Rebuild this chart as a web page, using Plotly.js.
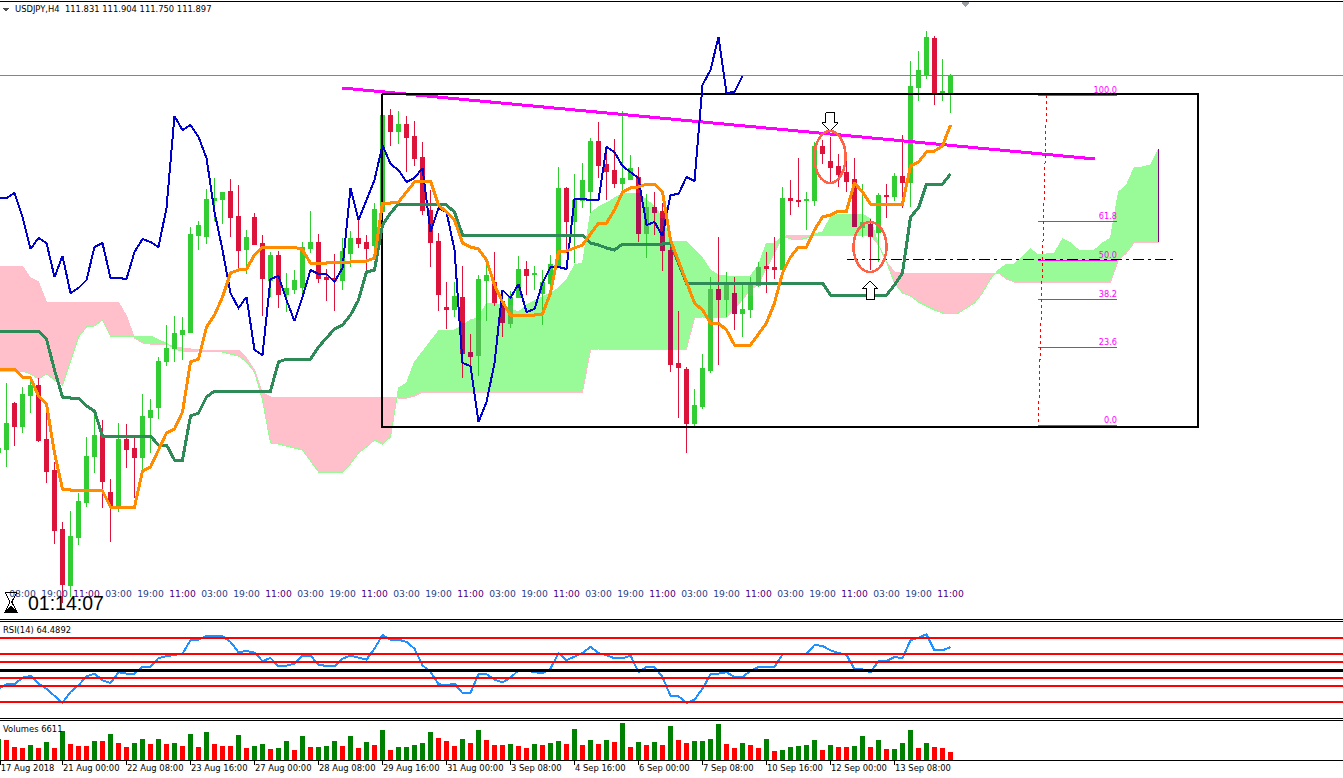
<!DOCTYPE html>
<html><head><meta charset="utf-8">
<script src="https://cdn.plot.ly/plotly-3.0.1.min.js"></script>
<style>html,body{margin:0;padding:0;background:#fff;overflow:hidden}.main-svg path{shape-rendering:crispEdges}</style>
</head><body><div id="chart" style="width:1343px;height:778px"></div>
<script>
// Candles, first bar is index -1
const opens=[110.392,110.404,110.588,110.496,110.62,110.66,110.444,110.32,110.084,109.86,110.052,110.192,110.376,110.46,110.232,110.18,110.444,110.408,110.372,110.532,110.572,110.756,110.808,110.864,110.872,111.26,111.256,111.4,111.404,111.436,111.336,111.204,111.332,111.228,111.08,111.18,111.024,111.044,111.052,111.208,111.232,111.092,111.088,111.08,111.188,111.248,111.232,111.22,111.356,111.74,111.676,111.704,111.656,111.572,111.36,111.236,110.972,110.964,111.012,110.792,110.78,111.08,111.072,110.996,110.908,111.012,111.124,111.102,111.028,111.068,111.14,111.448,111.316,111.4,111.436,111.636,111.544,111.52,111.468,111.484,111.492,111.268,111.372,111.356,111.2,110.748,110.724,110.508,110.576,110.72,111.044,111.004,111.028,110.948,110.964,111.06,111.136,111.132,111.124,111.408,111.4,111.4,111.4,111.616,111.556,111.536,111.512,111.484,111.292,111.304,111.272,111.42,111.416,111.496,111.472,111.852,111.9,112.048,111.824,111.831];
const highs=[110.408,110.668,110.592,110.652,110.688,110.688,110.58,110.352,110.112,110.156,110.228,110.452,110.54,110.52,110.284,110.508,110.504,110.448,110.624,110.604,110.772,110.9,110.936,110.932,111.292,111.316,111.444,111.488,111.432,111.484,111.46,111.28,111.348,111.26,111.192,111.196,111.108,111.12,111.232,111.356,111.264,111.124,111.184,111.248,111.276,111.32,111.26,111.388,111.74,111.764,111.756,111.736,111.716,111.632,111.44,111.268,111.072,111.072,111.136,110.864,111.1,111.14,111.192,111,111.036,111.176,111.156,111.136,111.12,111.18,111.532,111.452,111.504,111.548,111.648,111.712,111.584,111.644,111.756,111.58,111.532,111.424,111.432,111.388,111.24,110.956,110.732,110.644,110.784,111.092,111.252,111.112,111.092,111.06,111.092,111.152,111.192,111.252,111.452,111.48,111.568,111.432,111.632,111.64,111.652,111.584,111.592,111.568,111.464,111.324,111.428,111.464,111.508,111.66,111.956,111.996,112.076,112.056,111.964,111.904];
const lows=[110.392,110.332,110.416,110.468,110.548,110.432,110.268,110.024,109.788,109.812,110.02,110.172,110.308,110.168,110.032,110.152,110.328,110.208,110.32,110.388,110.524,110.736,110.752,110.76,110.868,111.2,111.224,111.316,111.304,111.252,111.128,111.104,111.22,110.936,111.012,110.968,110.952,111.024,111.028,111.188,111.068,110.996,110.956,111.04,111.132,111.208,111.12,111.172,111.356,111.616,111.624,111.512,111.536,111.34,111.132,110.956,110.884,110.932,110.688,110.736,110.696,110.916,110.976,110.852,110.888,111.008,111.02,111.04,110.9,111.028,111.14,111.188,111.148,111.368,111.348,111.488,111.4,111.448,111.44,111.48,111.232,111.168,111.26,111.116,110.712,110.528,110.388,110.488,110.564,110.708,110.74,110.932,110.88,110.852,110.928,111.052,111.028,111.084,111.124,111.34,111.372,111.28,111.376,111.544,111.468,111.452,111.432,111.292,111.252,111.12,111.152,111.328,111.396,111.368,111.372,111.796,111.884,111.78,111.796,111.75];
const closes=[110.408,110.508,110.496,110.624,110.66,110.44,110.316,110.08,109.864,110.056,110.196,110.376,110.46,110.276,110.18,110.444,110.404,110.372,110.536,110.56,110.756,110.808,110.868,110.88,111.264,111.3,111.404,111.408,111.432,111.332,111.2,111.252,111.224,111.088,111.18,111.024,111.048,111.08,111.212,111.232,111.088,111.084,111.08,111.196,111.248,111.228,111.208,111.364,111.74,111.676,111.704,111.652,111.568,111.36,111.232,111.024,110.964,111.016,110.788,110.776,111.084,111.1,110.992,110.912,111.012,111.124,111.1,111.106,111.072,111.144,111.448,111.316,111.4,111.48,111.636,111.54,111.516,111.468,111.488,111.528,111.268,111.372,111.352,111.2,110.744,110.732,110.508,110.58,110.728,111.044,111.004,111.068,110.948,110.964,111.06,111.132,111.128,111.124,111.408,111.4,111.396,111.404,111.616,111.588,111.532,111.504,111.476,111.296,111.312,111.256,111.42,111.416,111.496,111.472,111.856,111.92,112.052,111.828,111.836,111.897];
// Parts of candle bodies seen through the cloud
const cloudBodyBar=[57,58,59,62,63,79,80,81,82,83,88,89,90,91,93,94,106,107,108];
const cloudBodyHigh=[110.908,110.792,110.92,110.988,110.98,111.428,111.372,111.372,111.328,111.2,111.044,111.044,111.068,111.028,111.06,111.132,111.344,111.312,111.304];
const cloudBodyLow=[110.788,110.776,110.78,110.912,110.908,111.268,111.268,111.352,111.2,110.804,110.928,111.004,111.004,110.948,111.02,111.06,111.296,111.292,111.26];
// Ichimoku
const tenkan=[110.724,110.724,110.724,110.692,110.688,110.616,110.584,110.388,110.244,110.24,110.24,110.24,110.24,110.236,110.172,110.172,110.172,110.172,110.316,110.332,110.4,110.468,110.484,110.552,110.752,110.764,110.892,110.94,111.012,111.108,111.12,111.124,111.18,111.212,111.212,111.212,111.212,111.212,111.2,111.148,111.148,111.148,111.152,111.152,111.152,111.156,111.156,111.168,111.388,111.388,111.392,111.432,111.472,111.476,111.476,111.38,111.352,111.32,111.228,111.212,111.204,111.16,111.06,110.992,110.94,110.94,110.94,110.94,110.944,111.028,111.192,111.196,111.208,111.22,111.264,111.308,111.308,111.36,111.432,111.448,111.452,111.464,111.464,111.432,111.24,111.152,111.072,110.988,110.96,110.908,110.908,110.88,110.82,110.82,110.82,110.864,110.908,110.988,111.108,111.172,111.212,111.212,111.28,111.332,111.34,111.356,111.356,111.468,111.432,111.384,111.384,111.384,111.384,111.384,111.536,111.552,111.592,111.596,111.616,111.7];
const kijun=[110.876,110.876,110.876,110.876,110.876,110.876,110.844,110.72,110.612,110.608,110.608,110.576,110.556,110.456,110.456,110.456,110.456,110.456,110.456,110.456,110.42,110.42,110.36,110.36,110.536,110.548,110.612,110.636,110.636,110.636,110.636,110.636,110.636,110.636,110.636,110.752,110.764,110.764,110.764,110.764,110.812,110.848,110.884,110.9,110.94,111,111.112,111.12,111.3,111.348,111.384,111.384,111.384,111.384,111.384,111.384,111.38,111.352,111.26,111.26,111.26,111.26,111.26,111.26,111.26,111.26,111.26,111.26,111.26,111.26,111.26,111.26,111.26,111.26,111.228,111.22,111.208,111.2,111.224,111.224,111.224,111.224,111.224,111.224,111.228,111.144,111.068,111.068,111.068,111.068,111.068,111.068,111.068,111.068,111.068,111.068,111.068,111.068,111.068,111.068,111.068,111.068,111.068,111.068,111.02,111.02,111.02,111.02,111.02,111.02,111.02,111.02,111.06,111.108,111.332,111.368,111.464,111.464,111.464,111.504];
const chikou=[111.408,111.408,111.428,111.332,111.204,111.248,111.228,111.092,111.176,111.028,111.048,111.08,111.212,111.228,111.088,111.088,111.084,111.192,111.244,111.232,111.212,111.368,111.736,111.68,111.7,111.652,111.568,111.352,111.2,111.028,110.968,111.012,110.8,110.78,111.084,111.096,111,110.916,111.012,111.12,111.104,111.104,111.072,111.128,111.448,111.32,111.4,111.48,111.62,111.544,111.52,111.472,111.488,111.528,111.272,111.368,111.352,111.2,110.748,110.736,110.512,110.592,110.748,111.04,111.008,111.064,110.952,110.964,111.068,111.132,111.132,111.124,111.404,111.404,111.4,111.4,111.612,111.592,111.536,111.512,111.488,111.3,111.312,111.256,111.42,111.424,111.492,111.476,111.86,111.92,112.052,111.828,111.832,111.896];
const senkouA=[
110.716,110.716,110.716,110.716,110.704,110.684,110.704,110.68,110.66,110.76,
110.852,110.892,110.896,110.92,110.856,110.856,110.856,110.856,110.856,110.856,
110.84,110.828,110.804,110.796,110.792,110.796,110.796,110.796,110.792,110.784,
110.776,110.752,110.712,110.6,110.428,110.424,110.416,110.408,110.4,110.356,
110.312,110.312,110.312,110.312,110.344,110.388,110.412,110.44,110.424,110.452,
110.648,110.668,110.752,110.792,110.832,110.876,110.88,110.88,110.9,110.92,
110.928,110.988,110.988,110.976,110.964,110.952,110.98,110.996,111.012,111.028,
111.048,111.08,111.14,111.148,111.348,111.372,111.388,111.408,111.424,111.428,
111.428,111.4,111.376,111.328,111.236,111.236,111.232,111.2,111.168,111.12,
111.1,111.096,111.096,111.096,111.096,111.14,111.228,111.228,111.256,111.244,
111.24,111.248,111.264,111.272,111.332,111.344,111.344,111.344,111.344,111.324,
111.22,111.152,111.068,111.028,111.016,110.992,110.976,110.96,110.948,110.948,
110.948,110.968,110.988,111.028,111.084,111.12,111.144,111.144,111.176,111.204,
111.18,111.184,111.188,111.244,111.228,111.2,111.2,111.2,111.228,111.248,
111.432,111.46,111.532,111.532,111.54,111.604];
const senkouB=[
111.136,111.136,111.136,111.136,111.088,111.072,110.992,110.992,110.992,110.992,
110.992,110.992,110.992,110.992,110.992,110.992,110.936,110.848,110.828,110.824,
110.824,110.824,110.812,110.808,110.804,110.8,110.8,110.8,110.8,110.8,
110.8,110.768,110.72,110.628,110.612,110.612,110.612,110.612,110.612,110.612,
110.612,110.612,110.612,110.612,110.612,110.612,110.612,110.612,110.612,110.612,
110.608,110.608,110.616,110.632,110.632,110.632,110.632,110.632,110.632,110.632,
110.632,110.632,110.632,110.632,110.632,110.632,110.632,110.632,110.632,110.632,
110.632,110.632,110.632,110.632,110.8,110.804,110.804,110.804,110.804,110.804,
110.804,110.804,110.804,110.804,110.804,110.804,110.804,110.928,110.932,110.932,
110.932,110.932,110.964,111,111.04,111.064,111.128,111.192,111.252,111.26,
111.26,111.26,111.26,111.26,111.26,111.26,111.26,111.26,111.26,111.26,
111.22,111.152,111.112,111.108,111.108,111.108,111.108,111.108,111.108,111.108,
111.108,111.108,111.108,111.108,111.108,111.108,111.084,111.072,111.072,111.072,
111.072,111.072,111.072,111.072,111.072,111.072,111.072,111.072,111.072,111.072,
111.16,111.188,111.232,111.232,111.232,111.232];
// Oscillators
const rsi=[38.5,41.3,41.3,45.4,46.5,41.7,38.5,33.8,29.6,36.5,40.6,46.3,47.9,43.8,42.1,48.8,47.9,47.9,52.1,52.1,57.7,58.8,59.6,60.4,68.8,69.2,71.5,71.7,71.3,67.7,61.3,62.1,61,55.8,57.7,52.5,52.9,54.2,59.2,59.2,53.5,52.7,52.5,57.3,59.2,57.9,56.7,63.5,72.1,69.2,69.2,67.7,63.5,53.1,49,41.3,40.6,41.7,35.8,35.8,47.5,47.5,44.2,42.5,45.4,50,50,48.8,48.3,51,60.8,56.3,58.8,60.8,64.6,60.8,59.4,57.5,57.5,59.2,48.8,52.1,52.1,45.8,34,33.8,29.6,31.7,38.5,47.5,47.9,48.8,45.8,45.8,49.6,52.1,52.1,52.1,60,60,60.2,60.2,65.8,65.2,62.5,60.8,59.6,50.8,50.6,48.8,55.8,55.8,58.3,57.5,68.8,70.4,72.5,62.5,62.5,64.4892];
const rsiLevels=[70,60,55,45,40,30];
const volumes=[18900,17400,11100,10200,12900,10200,15600,10200,25500,13800,12000,11900,16500,16400,22800,14700,11100,14700,18300,13800,18300,13800,14700,12000,22800,11100,24600,13800,12000,11900,21900,10200,12000,13800,9300,10200,16500,8400,21000,11100,11200,12000,16500,12000,21000,10200,15600,12900,26400,8400,11100,11200,12900,14700,24600,19200,16500,12000,18300,14700,26400,17400,12900,12800,13800,12000,10200,13800,12900,14700,16500,13800,27300,12900,17400,13800,17400,15600,32700,11100,15600,12900,15600,12900,30000,17400,14700,16500,16600,18300,31800,13800,10200,14700,12900,10200,18300,7500,8400,11100,12000,12900,17400,8400,12900,11100,11000,12000,21000,11100,17400,9300,9400,14700,26400,10200,14700,11100,10200,6611];
// Time axis
const timeTickBars=[-0.78,7,15,23,31,39,47,55,63,71,79,87,95,103,111];
const timeTickText=["17 Aug 2018","21 Aug 00:00","22 Aug 08:00","23 Aug 16:00","27 Aug 00:00","28 Aug 08:00","29 Aug 16:00","31 Aug 00:00","3 Sep 08:00","4 Sep 16:00","6 Sep 00:00","7 Sep 08:00","10 Sep 16:00","12 Sep 00:00","13 Sep 08:00"];
const hourBars=[2,6,10,14,18,22,26,30,34,38,42,46,50,54,58,62,66,70,74,78,82,86,90,94,98,102,106,110,114,118];
const hourText=["08:00","19:00","11:00","03:00","19:00","11:00","03:00","19:00","11:00","03:00","19:00","11:00","03:00","19:00","11:00","03:00","19:00","11:00","03:00","19:00","11:00","03:00","19:00","11:00","03:00","19:00","11:00","03:00","19:00","11:00"];
// Drawn objects
const lastPrice=111.897;
const boxBars=[46.97,148.9,148.9,46.97,46.97];
const boxPrices=[111.824,111.824,110.494,110.494,111.824];
const trendBars=[41.94,136.06];
const trendPrices=[111.848,111.564];
const fibLevels=["100.0","61.8","50.0","38.2","23.6","0.0"];
const fibPrices=[111.82,111.316,111.16,111.004,110.812,110.5];
const fibBars=[128.94,138.81];
const fibTrendBars=[130.03,128.98];
const fibTrendPrices=[111.82,110.5];
const midBars=[105.06,145.8];
const midPrice=111.164;
const downArrowBars=[102.4,103.44,103.44,103.97,102.94,101.9,102.4,102.4];
const downArrowPrices=[111.749,111.749,111.709,111.709,111.677,111.709,111.709,111.749];
const upArrowBars=[107.94,108.94,108.44,108.44,107.44,107.44,106.94,107.94];
const upArrowPrices=[111.076,111.045,111.045,111.004,111.004,111.045,111.045,111.076];
const glassBars=[-0.19,1.31,0.66,1.31,-0.19,0.46,-0.19];
const glassPrices=[109.832,109.832,109.792,109.752,109.752,109.792,109.832];
const sandBars=[-0.1,0.56,1.2,-0.1];
const sandPrices=[109.756,109.776,109.756,109.756];

const W=1343,H=778;
const xRange=[-0.8125,167.0625];
const idx=a=>a.map((_,i)=>i-1);
const px=v=>v/W, py=v=>1-v/H;
const RED='#DC143C',GRN='#32CD32';

// Cloud polygons, one colour per side of the crossings
const green={x:[],y:[]},pink={x:[],y:[]};
(function(){
  let cur=null,sx=[],sa=[],sb=[];
  const flush=()=>{const t=cur>0?green:pink;
    t.x.push(...sx,...sx.slice().reverse(),sx[0],null);
    t.y.push(...sa,...sb.slice().reverse(),sa[0],null);};
  senkouA.forEach((a,i)=>{
    const b=senkouB[i],x=i-1,d=a-b,s=d>=0?1:-1;
    if(cur!==null&&s!==cur){
      const a0=senkouA[i-1],d0=a0-senkouB[i-1],t=d0/(d0-d),xc=x-1+t,yc=a0+t*(a-a0);
      sx.push(xc);sa.push(yc);sb.push(yc);flush();
      sx=[xc];sa=[yc];sb=[yc];
    }
    cur=s;sx.push(x);sa.push(a);sb.push(b);
  });
  flush();
})();

const line=(x,y,color,width,ya,extra)=>Object.assign({type:'scatter',mode:'lines',x,y,xaxis:'x',yaxis:ya,line:{color,width},hoverinfo:'skip',showlegend:false},extra||{});
const traces=[];
// cloud layer
traces.push(line(green.x,green.y,'#98FB98',0,'y',{fill:'toself',fillcolor:'#98FB98',connectgaps:false}));
traces.push(line(pink.x,pink.y,'#FFC0CB',0,'y',{fill:'toself',fillcolor:'#FFC0CB',connectgaps:false}));
traces.push(line(idx(senkouB),senkouB,'#FFC0CB',1,'y'));
traces.push(line(idx(senkouA),senkouA,'#98FB98',1,'y'));
traces.push(line(xRange,[lastPrice,lastPrice],'#778899',1,'y'));
// candles
traces.push({type:'candlestick',x:idx(opens),open:opens,high:highs,low:lows,close:closes,xaxis:'x',yaxis:'y2',
  increasing:{line:{color:GRN,width:1},fillcolor:GRN},decreasing:{line:{color:RED,width:1},fillcolor:RED},whiskerwidth:0,hoverinfo:'skip',showlegend:false});
const isUp=b=>closes[b+1]>=opens[b+1];
traces.push({type:'candlestick',x:cloudBodyBar,
  open:cloudBodyBar.map((b,i)=>isUp(b)?cloudBodyLow[i]:cloudBodyHigh[i]),
  close:cloudBodyBar.map((b,i)=>isUp(b)?cloudBodyHigh[i]:cloudBodyLow[i]),
  high:cloudBodyHigh,low:cloudBodyLow,xaxis:'x',yaxis:'y2',
  increasing:{line:{color:'#50C050',width:1},fillcolor:'#50C050'},decreasing:{line:{color:'#B01050',width:1},fillcolor:'#B01050'},whiskerwidth:0,hoverinfo:'skip',showlegend:false});
// objects and lines
traces.push(line(trendBars,trendPrices,'#FF00FF',3,'y3'));
traces.push(line(boxBars,boxPrices,'#000000',2,'y3'));
fibPrices.forEach(p=>traces.push(line(fibBars,[p,p],'#FF00FF',1,'y3')));
traces.push({type:'scatter',mode:'text',x:fibPrices.map(()=>fibBars[1]),y:fibPrices,text:fibLevels,textposition:'top left',
  textfont:{family:'DejaVu Sans',size:8.2,color:'#FF00FF'},xaxis:'x',yaxis:'y3',hoverinfo:'skip',showlegend:false});
traces.push(line(fibTrendBars,fibTrendPrices,'#FF0000',1,'y3',{line:{color:'#FF0000',width:1,dash:'3px,3px'}}));
traces.push(line(midBars,[midPrice,midPrice],'#000',1,'y3',{line:{color:'#000',width:1,dash:'11px,4px,3px,4px'}}));
traces.push(line([144,144],[senkouA[145],senkouB[145]],'#800080',1,'y3'));
traces.push(line(idx(chikou),chikou,'#0000CD',2,'y3'));
traces.push(line(idx(kijun),kijun,'#2E8B57',3,'y3'));
traces.push(line(idx(tenkan),tenkan,'#FF8C00',3,'y3'));
traces.push(line(downArrowBars,downArrowPrices,'#000',1,'y3',{fill:'toself',fillcolor:'#fff'}));
traces.push(line(upArrowBars,upArrowPrices,'#000',1,'y3',{fill:'toself',fillcolor:'#fff'}));
traces.push({type:'scatter',mode:'text',x:hourBars,y:hourBars.map(()=>109.82),text:hourText,textposition:'middle center',
  textfont:{family:'DejaVu Sans',size:9.2,color:hourText.map(t=>t==='11:00'?'#4B0082':'#27408B')},xaxis:'x',yaxis:'y3',hoverinfo:'skip',showlegend:false});
traces.push(line(glassBars,glassPrices,'#000',1,'y3'));
traces.push(line(sandBars,sandPrices,'#000',1,'y3',{fill:'toself',fillcolor:'#000'}));
traces.push({type:'scatter',mode:'markers',x:[-0.06,119.875],y:[112.164,112.188],xaxis:'x',yaxis:'y3',cliponaxis:false,
  marker:{symbol:'triangle-down',size:[6,9],color:['#000','#707880'],line:{width:0}},hoverinfo:'skip',showlegend:false});
// RSI
traces.push({type:'scatter',mode:'lines',x:idx(rsi),y:rsi,xaxis:'x2',yaxis:'y4',line:{color:'#1E90FF',width:2},hoverinfo:'skip',showlegend:false});
rsiLevels.forEach(l=>traces.push({type:'scatter',mode:'lines',x:xRange,y:[l,l],xaxis:'x2',yaxis:'y4',line:{color:'#FF0000',width:2},hoverinfo:'skip',showlegend:false}));
traces.push({type:'scatter',mode:'lines',x:xRange,y:[50,50],xaxis:'x2',yaxis:'y4',line:{color:'#000000',width:3},hoverinfo:'skip',showlegend:false});
// Volumes
traces.push({type:'bar',x:idx(volumes),y:volumes,width:0.625,xaxis:'x3',yaxis:'y5',
  marker:{color:volumes.map((v,i)=>i===0||v>volumes[i-1]?'#008000':'#FF0000'),line:{width:0}},hoverinfo:'skip',showlegend:false});

const sep=y=>({type:'line',xref:'paper',yref:'paper',x0:0,x1:1,y0:py(y),y1:py(y),line:{color:'#000',width:1}});
const note=(x,y,text,size,family,color,anchor)=>({xref:'paper',yref:'paper',x:px(x),y:py(y),text,showarrow:false,xanchor:anchor||'left',yanchor:'middle',
  font:{size,family,color:color||'#000'},align:'left',borderpad:0});
const hide={visible:false,fixedrange:true};
const mainY=[py(619),1];
const layout={width:W,height:H,margin:{l:0,r:0,t:0,b:0},paper_bgcolor:'#fff',plot_bgcolor:'rgba(0,0,0,0)',showlegend:false,
  boxgap:0.5,boxgroupgap:0,bargap:0,dragmode:false,
  xaxis:{...hide,range:xRange,rangeslider:{visible:false},domain:[0,1],anchor:'y'},
  yaxis:{...hide,range:[109.724,112.2],domain:mainY,anchor:'x'},
  yaxis2:{...hide,range:[109.724,112.2],overlaying:'y',anchor:'x'},
  yaxis3:{...hide,range:[109.724,112.2],overlaying:'y',anchor:'x'},
  xaxis2:{...hide,range:xRange,domain:[0,1],anchor:'y4'},
  yaxis4:{...hide,range:[20.2,80.8],domain:[py(718),py(621)],anchor:'x2'},
  xaxis3:{range:xRange,domain:[0,1],anchor:'y5',fixedrange:true,showgrid:false,zeroline:false,showline:false,
    tickmode:'array',tickvals:timeTickBars,ticktext:timeTickText,ticks:'outside',ticklen:4,tickwidth:1,tickcolor:'#000',
    ticklabelposition:'outside right',tickangle:0,ticklabeloverflow:'allow',tickfont:{family:'DejaVu Sans',size:8.4,color:'#000'}},
  yaxis5:{...hide,range:[-450,34650],domain:[py(760),py(721)],anchor:'x3'},
  shapes:[sep(1),sep(619),sep(621.5),sep(718.5),sep(720),sep(760),
    {type:'circle',xref:'x',yref:'y',x0:101,x1:104.875,y0:111.468,y1:111.676,line:{color:'#FF6347',width:2.5}},
    {type:'circle',xref:'x',yref:'y',x0:105.875,x1:110,y0:111.112,y1:111.312,line:{color:'#FF6347',width:2.5}}],
  annotations:[
    note(14,9,'USDJPY,H4&nbsp;&nbsp;111.831 111.904 111.750 111.897',8.4,'DejaVu Sans'),
    note(2,630,'RSI(14) 64.4892',8.4,'DejaVu Sans'),
    note(2,729,'Volumes 6611',8.4,'DejaVu Sans'),
    note(27,603,'01:14:07',19.5,'Liberation Sans')
  ]};
Plotly.newPlot('chart',traces,layout,{displayModeBar:false,staticPlot:true});
</script></body></html>
